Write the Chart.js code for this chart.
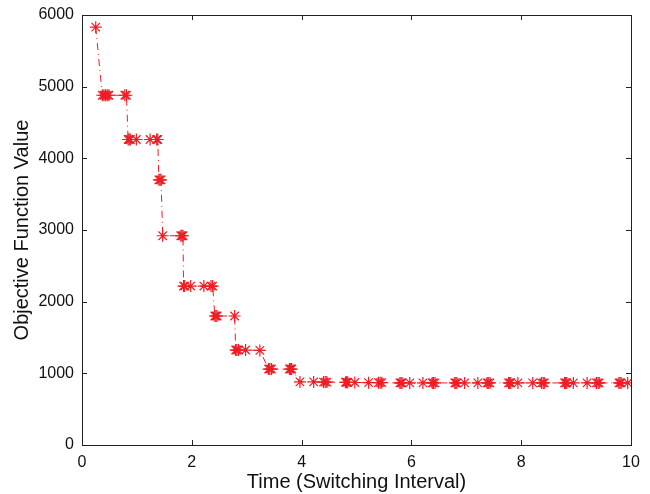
<!DOCTYPE html>
<html>
<head>
<meta charset="utf-8">
<script src="https://cdn.jsdelivr.net/npm/chart.js@4.4.1/dist/chart.umd.min.js"></script>
<style>
  html, body { margin: 0; padding: 0; background: #fff; }
  #wrap { width: 650px; height: 494px; }
</style>
</head>
<body>
<div id="wrap"><canvas id="objChart"></canvas></div>
<script>
// Time (switching interval) of each iteration
const timeValues = [
  0.25,
  0.37, 0.40, 0.43, 0.46, 0.49, 0.78, 0.81,
  0.84, 0.86, 0.88, 0.99, 1.24, 1.36, 1.38,
  1.40, 1.42, 1.44,
  1.47, 1.80, 1.82, 1.84,
  1.85, 1.87, 1.98, 2.22, 2.35, 2.38,
  2.42, 2.44, 2.46, 2.78,
  2.80, 2.82, 2.85, 2.98, 3.24,
  3.40, 3.42, 3.45, 3.78, 3.80, 3.82,
  3.97, 4.22, 4.40, 4.43, 4.46, 4.80, 4.82, 4.84, 4.97,
  5.22, 5.40, 5.43, 5.46, 5.79, 5.81, 5.83, 5.97,
  6.21, 6.38, 6.40, 6.43, 6.79, 6.81, 6.83, 6.97,
  7.21, 7.38, 7.40, 7.43, 7.77, 7.79, 7.81, 7.94,
  8.21, 8.37, 8.40, 8.42, 8.79, 8.81, 8.83, 8.95,
  9.20, 9.37, 9.40, 9.42, 9.78, 9.80, 9.82, 9.94
];

// Objective function value at each of those times
const objectiveValues = [
  5830,
  4880, 4880, 4880, 4880, 4880, 4880, 4880,
  4263, 4263, 4263, 4263, 4263, 4263, 4263,
  3700, 3700, 3700,
  2920, 2920, 2920, 2920,
  2218, 2218, 2218, 2218, 2218, 2218,
  1800, 1800, 1800, 1800,
  1325, 1325, 1325, 1325, 1320,
  1060, 1060, 1060, 1060, 1060, 1060,
  880, 880, 878, 878, 878, 875, 875, 875, 872,
  870, 870, 870, 870, 866, 866, 866, 866,
  866, 866, 866, 866, 866, 866, 866, 866,
  866, 866, 866, 866, 866, 866, 866, 866,
  866, 866, 866, 866, 866, 866, 866, 866,
  866, 866, 866, 866, 866, 866, 866, 866
];

const xTicks = [0, 2, 4, 6, 8, 10];
const yTicks = [0, 1000, 2000, 3000, 4000, 5000, 6000];

const points = timeValues.map((t, i) => ({ x: t, y: objectiveValues[i] }));
const fontFamily = "'Liberation Sans', Helvetica, Arial, sans-serif";

// MATLAB style box with inward ticks on all four sides
const boxPlugin = {
  id: 'boxTicks',
  afterDraw(chart) {
    const { ctx, chartArea: a, scales } = chart;
    const len = 5;
    ctx.save();
    ctx.strokeStyle = '#222';
    ctx.lineWidth = 1;
    ctx.beginPath();
    xTicks.forEach(v => {
      const px = Math.round(scales.x.getPixelForValue(v)) + 0.5;
      ctx.moveTo(px, a.bottom); ctx.lineTo(px, a.bottom - len);
      ctx.moveTo(px, a.top); ctx.lineTo(px, a.top + len);
    });
    yTicks.forEach(v => {
      const py = Math.round(scales.y.getPixelForValue(v)) + 0.5;
      ctx.moveTo(a.left, py); ctx.lineTo(a.left + len, py);
      ctx.moveTo(a.right, py); ctx.lineTo(a.right - len, py);
    });
    ctx.stroke();
    ctx.strokeRect(Math.round(a.left) + 0.5, Math.round(a.top) + 0.5,
      Math.round(a.right - a.left), Math.round(a.bottom - a.top));
    ctx.restore();
  }
};

new Chart(document.getElementById('objChart'), {
  type: 'scatter',
  data: {
    datasets: [{
      data: points,
      showLine: true,
      borderColor: '#ee1c25',
      borderWidth: 1,
      borderDash: [7, 4, 1, 4],
      pointStyle: 'star',
      pointRadius: 6,
      pointBorderWidth: 1.2,
      pointBorderColor: '#ee1c25',
      pointBackgroundColor: '#ee1c25',
      tension: 0
    }]
  },
  options: {
    responsive: true,
    maintainAspectRatio: false,
    animation: false,
    layout: { padding: { top: 15, right: 19, left: 0, bottom: 0 } },
    plugins: { legend: { display: false }, tooltip: { enabled: false } },
    scales: {
      x: {
        type: 'linear',
        min: 0,
        max: 10,
        afterFit: s => { s.height = 49; s.paddingLeft = 0; s.paddingRight = 0; },
        afterBuildTicks: s => { s.ticks = xTicks.map(v => ({ value: v })); },
        grid: { display: false, drawTicks: false },
        border: { display: true, color: '#222' },
        ticks: {
          padding: 8, color: '#111', maxRotation: 0,
          font: { family: fontFamily, size: 16 },
          callback: v => String(v)
        },
        title: {
          display: true,
          text: 'Time (Switching Interval)',
          color: '#111',
          padding: { top: 0, bottom: 0 },
          font: { family: fontFamily, size: 20 }
        }
      },
      y: {
        type: 'linear',
        min: 0,
        max: 6000,
        afterFit: s => { s.width = 82; s.paddingTop = 0; s.paddingBottom = 0; },
        afterBuildTicks: s => { s.ticks = yTicks.map(v => ({ value: v })); },
        grid: { display: false, drawTicks: false },
        border: { display: true, color: '#222' },
        ticks: {
          padding: 8, color: '#111',
          font: { family: fontFamily, size: 16 },
          callback: v => String(v)
        },
        title: {
          display: true,
          text: 'Objective Function Value',
          color: '#111',
          padding: { top: 10, bottom: 0 },
          font: { family: fontFamily, size: 20 }
        }
      }
    }
  },
  plugins: [boxPlugin]
});
</script>
</body>
</html>
